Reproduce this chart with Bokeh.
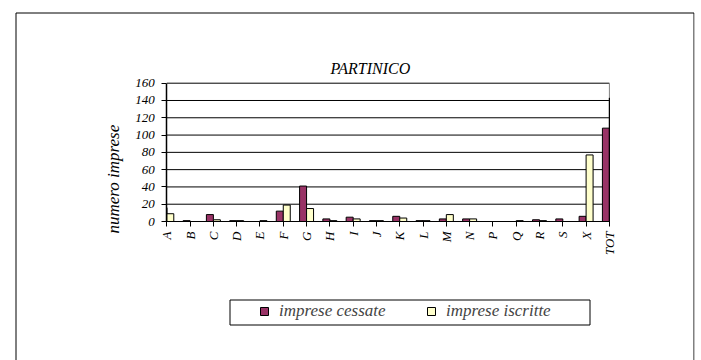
from math import pi
from bokeh.plotting import figure
from bokeh.models import (ColumnDataSource, Range1d, FixedTicker, Legend, LegendItem,
                          Label, BoxAnnotation)
from bokeh.embed import file_html
from bokeh.resources import INLINE

# ---- data ----
categories = ["A", "B", "C", "D", "E", "F", "G", "H", "I", "J", "K", "L", "M",
              "N", "P", "Q", "R", "S", "X", "TOT"]
cessate = [16, 1, 8, 1, 0, 12, 41, 3, 5, 1, 6, 1, 3, 3, 0, 0, 2, 3, 6, 108]
iscritte = [9, 0, 2, 1, 1, 19, 15, 1, 3, 1, 4, 1, 8, 3, 0, 1, 1, 0, 77, 143]
y_ticks = [0, 20, 40, 60, 80, 100, 120, 140, 160]
series_names = ["imprese cessate", "imprese iscritte"]
title_text = "PARTINICO"
y_label_text = "numero imprese"

FONT = "'Liberation Serif', 'Times New Roman', serif"
C_CESS = "#993366"
C_ISCR = "#FFFFCC"

# ---- pixel layout (canvas == page, Bokeh template has no margin) ----
W, H = 700, 360
FL, FR, FT, FB = 14, 694, 11, 360          # frame (also carries the outer page box)
AX_L, AX_R = 166.3, 608.9                  # pixel of first / last category
AX_B, AX_T = 221.0, 82.7                   # pixel of y = 0 / y = 160
n = len(categories)
y_lo, y_hi = y_ticks[0], y_ticks[-1]
sxp = (AX_R - AX_L) / (n - 1)
syp = (AX_B - AX_T) / (y_hi - y_lo)


def px2x(px):
    return (px - AX_L) / sxp


def py2y(py):
    return y_lo + (AX_B - py) / syp


xs = list(range(n))
BW = 0.3
x_min, x_max = xs[0], xs[-1]
# bars sit side by side on each tick, clipped to the category extent like the original
c_left = [max(x - BW, x_min) for x in xs]
c_right = [min(x, x_max) for x in xs]
i_left = [max(x, x_min) for x in xs]
i_right = [min(x + BW, x_max) for x in xs]
src = ColumnDataSource(dict(x=xs, cessate=cessate, iscritte=iscritte,
                            c_left=c_left, c_right=c_right,
                            i_left=i_left, i_right=i_right,
                            zero=[0] * n))

p = figure(width=W, height=H, output_backend="svg", toolbar_location=None,
           x_range=Range1d(px2x(FL), px2x(FR)),
           y_range=Range1d(py2y(FB), py2y(FT)),
           min_border_left=FL, min_border_right=W - FR,
           min_border_top=FT, min_border_bottom=H - FB)
p.background_fill_color = "white"
p.border_fill_color = "white"
p.outline_line_color = None
p.xgrid.visible = False
p.ygrid.visible = False

# horizontal grid lines and right edge of the plot area
p.segment(x0=[x_min] * len(y_ticks), x1=[x_max] * len(y_ticks), y0=y_ticks, y1=y_ticks,
          line_color="black", line_width=1)
p.segment(x0=[x_max], x1=[x_max], y0=[y_lo], y1=[y_hi], line_color="#808080", line_width=1)

r1 = p.quad(left="c_left", right="c_right", bottom="zero", top="cessate", source=src,
            fill_color=C_CESS, line_color="black", line_width=1)
r2 = p.quad(left="i_left", right="i_right", bottom="zero", top="iscritte", source=src,
            fill_color=C_ISCR, line_color="black", line_width=1)

# axes drawn at fixed locations inside the big frame
xa = p.xaxis[0]
ya = p.yaxis[0]
xa.fixed_location = y_lo
xa.bounds = (x_min, x_max)
xa.ticker = FixedTicker(ticks=xs)
xa.major_label_overrides = {i: c for i, c in zip(xs, categories)}
xa.major_label_orientation = pi / 2
xa.minor_tick_line_color = None
xa.major_tick_out = 5
xa.major_tick_in = 0
xa.major_label_standoff = 5
xa.axis_line_color = "black"
xa.major_tick_line_color = "black"

ya.fixed_location = x_min
ya.bounds = (y_lo, y_hi)
ya.ticker = FixedTicker(ticks=y_ticks)
ya.minor_tick_line_color = None
ya.major_tick_out = 5
ya.major_tick_in = 0
ya.major_label_standoff = 7
ya.axis_line_color = "black"
ya.axis_line_width = 1.5
ya.major_tick_line_color = "black"

for ax in (xa, ya):
    ax.major_label_text_font = FONT
    ax.major_label_text_font_style = "italic"
    ax.major_label_text_font_size = "13px"
    ax.major_label_text_color = "black"

# title and y-axis label
p.add_layout(Label(x=px2x(330), y=py2y(68), text=title_text, text_font=FONT,
                   text_font_style="italic", text_font_size="16px",
                   text_align="left", text_baseline="alphabetic", text_color="black"))
p.add_layout(Label(x=px2x(113), y=py2y(233), text=y_label_text, angle=pi / 2,
                   text_font=FONT, text_font_style="italic", text_font_size="17px",
                   text_align="left", text_baseline="alphabetic", text_color="black"))

# outer page box (bottom edge runs off the picture) and legend box
p.add_layout(BoxAnnotation(left=px2x(15.5), right=px2x(693.5), top=py2y(12.5),
                           bottom=py2y(420), fill_alpha=0, line_color="black",
                           line_alpha=1, line_width=1, level="underlay"))
p.add_layout(BoxAnnotation(left=px2x(229.5), right=px2x(589.5), top=py2y(299.5),
                           bottom=py2y(324.5), fill_alpha=0, line_color="black",
                           line_alpha=1, line_width=1))

legend = Legend(items=[LegendItem(label=series_names[0], renderers=[r1]),
                       LegendItem(label=series_names[1], renderers=[r2])],
                orientation="horizontal", location=(259 - FL, FB - 320.5),
                padding=0, margin=0, spacing=6, glyph_width=10, glyph_height=10,
                label_standoff=10, label_width=141, label_height=19,
                label_text_font=FONT, label_text_font_style="italic",
                label_text_font_size="17px", border_line_alpha=0,
                background_fill_alpha=0)
p.add_layout(legend, "center")

open("out.html", "w").write(file_html(p, INLINE))
